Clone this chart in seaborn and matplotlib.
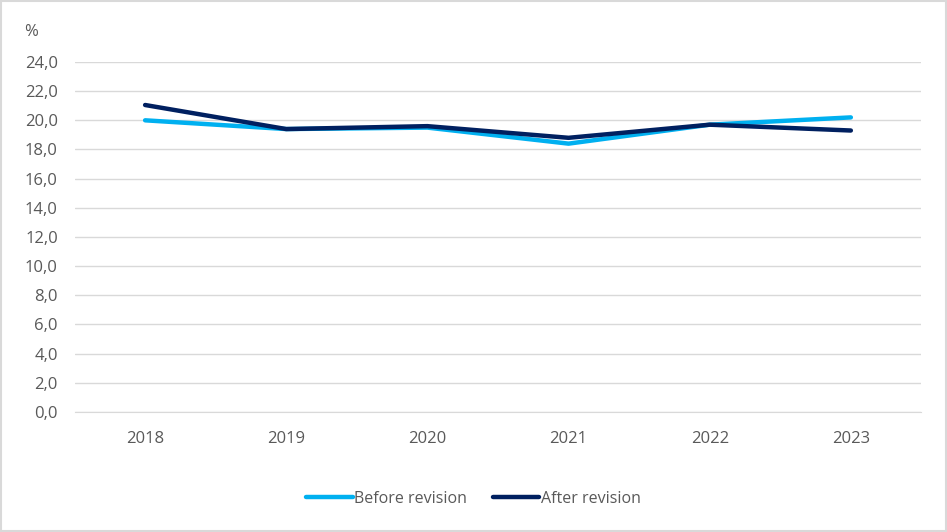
import pandas as pd
import matplotlib
matplotlib.use("Agg")
import matplotlib.pyplot as plt
import seaborn as sns

years = ["2018", "2019", "2020", "2021", "2022", "2023"]
before_revision = [20.0, 19.4, 19.5, 18.4, 19.7, 20.2]
after_revision = [21.05, 19.4, 19.6, 18.8, 19.7, 19.3]

df = pd.DataFrame({
    "Year": years * 2,
    "Value": before_revision + after_revision,
    "Series": ["Before revision"] * len(years) + ["After revision"] * len(years),
})

sns.set_style("white")
plt.rcParams['font.family'] = ['Open Sans', 'DejaVu Sans']
text_col = "#595959"

fig = plt.figure(figsize=(9.47, 5.32), dpi=100)
ax = fig.add_axes([0.0787, 0.2256, 0.8943, 0.6579])

palette = {"Before revision": "#00B0F0", "After revision": "#002060"}
sns.lineplot(data=df, x="Year", y="Value", hue="Series", palette=palette,
             linewidth=3.2, ax=ax, sort=False, solid_capstyle="round")

ax.set_xlim(-0.5, 5.5)
ax.set_ylim(0, 24)
ax.set_yticks([i * 2 for i in range(13)])
ax.set_yticklabels([f"{i * 2:.1f}".replace(".", ",") for i in range(13)])
ax.yaxis.grid(True, color="#D9D9D9", linewidth=1)
ax.set_axisbelow(True)
for s in ["top", "right", "left"]:
    ax.spines[s].set_visible(False)
ax.spines["bottom"].set_color("#D9D9D9")
ax.tick_params(axis="both", length=0, labelsize=12, colors=text_col, pad=12)
ax.tick_params(axis="x", pad=14)
ax.set_xlabel("")
ax.set_ylabel("")

fig.text(0.025, 0.94, "%", fontsize=12, color=text_col, va="center")

handles, labels = ax.get_legend_handles_labels()
ax.legend(handles, labels, loc="center", bbox_to_anchor=(0.5, 1 - 499 / 532),
          bbox_transform=fig.transFigure, ncol=2, frameon=False, fontsize=11.5,
          labelcolor=text_col, handlelength=2.9, handletextpad=0.1, columnspacing=1.6)

fig.patches.append(plt.Rectangle((0.001, 0.001), 0.998, 0.998, transform=fig.transFigure,
                                 fill=False, edgecolor="#D9D9D9", linewidth=1.5))

fig.savefig("out.png", dpi=100)
